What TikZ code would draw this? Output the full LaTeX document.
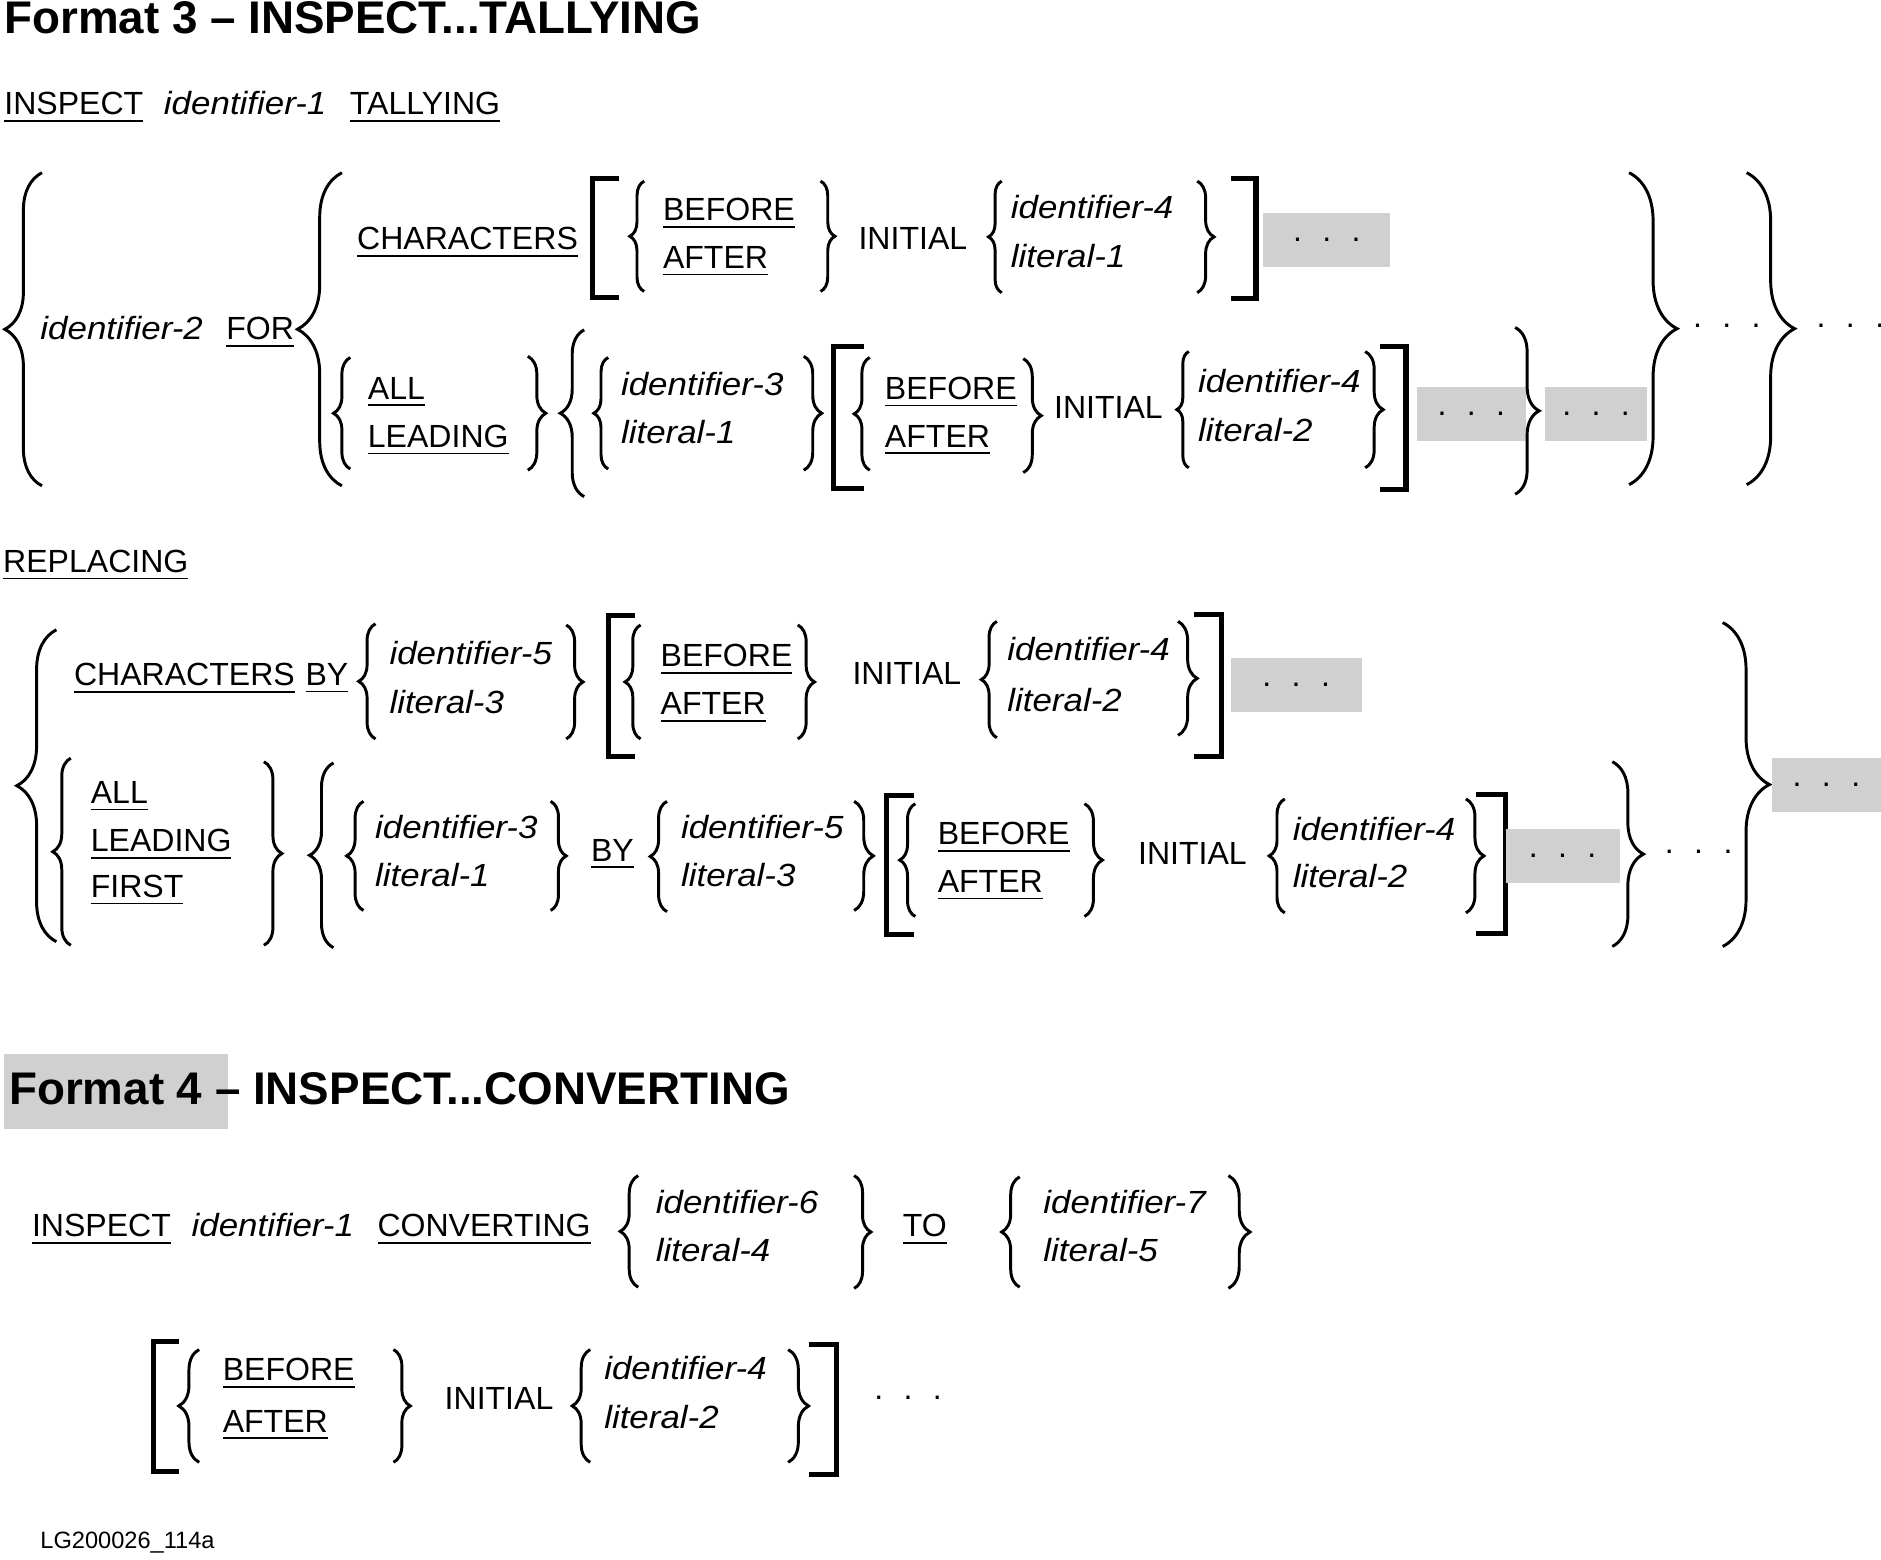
\documentclass[tikz,border=0pt]{standalone}
\usepackage{fontspec}
\setmainfont[ItalicFeatures={FakeStretch=1.09}]{Liberation Sans}
\usetikzlibrary{decorations.pathreplacing}
\definecolor{stipgray}{RGB}{208,208,208}
\newcommand{\repdots}{.\hspace{1.7mm}.\hspace{1.7mm}.}

\begin{document}
\begin{tikzpicture}[
  every node/.style={font=\fontsize{7.6}{9}\selectfont,inner sep=0pt},
  wd/.style={anchor=base west},
  var/.style={anchor=base west,font=\fontsize{7.6}{9}\selectfont\itshape},
  head/.style={anchor=base west,font=\fontsize{10.85}{12}\selectfont\bfseries},
  brc/.style={decorate,decoration={brace,amplitude=#1},line width=0.7pt},
  brc/.default=0.13cm,
  bkt/.style={line width=1.2pt},
  stip/.style={fill=stipgray,minimum height=0.45cm},
]
  \useasboundingbox (0,0) rectangle (15.68,13.00);

  % Title
  \node[head] (t3) at (0.03,12.72) {Format 3 -- INSPECT...TALLYING};
  \node[wd] (insp3) at (0.03,12.045) {\underline{INSPECT}};
  \node[var] (id1a) at (1.36,12.045) {identifier-1};
  \node[wd] (tally) at (2.91,12.045) {\underline{TALLYING}};

  % Tallying: outer part
  \draw[brc=0.31cm] (0.35,8.95) -- (0.35,11.56);
  \node[var] (id2) at (0.33,10.17) {identifier-2};
  \node[wd] (for) at (1.88,10.17) {\underline{FOR}};
  \draw[brc=0.37cm] (2.85,8.95) -- (2.85,11.56);

  % Tallying: CHARACTERS row
  \node[wd] (chars3) at (2.97,10.92) {\underline{CHARACTERS}};
  \draw[bkt] (5.16,11.51) -| (4.94,10.52) -- (5.16,10.52);
  \draw[brc=0.12cm] (5.37,10.57) -- (5.37,11.49);
  \node[wd] (bef3a) at (5.52,11.16) {\underline{BEFORE}};
  \node[wd] (aft3a) at (5.52,10.76) {\underline{AFTER}};
  \draw[brc=0.12cm] (6.84,11.49) -- (6.84,10.57);
  \node[wd] (ini3a) at (7.15,10.92) {INITIAL};
  \draw[brc=0.11cm] (8.35,10.56) -- (8.35,11.49);
  \node[var] (id4a) at (8.42,11.18) {identifier-4};
  \node[var] (lit1a) at (8.42,10.77) {literal-1};
  \draw[brc=0.14cm] (9.98,11.49) -- (9.98,10.56);
  \draw[bkt] (10.26,11.51) -| (10.47,10.51) -- (10.26,10.51);
  \node[stip,minimum width=1.06cm] (st1) at (11.06,11.00) {\repdots};

  % Tallying: ALL / LEADING row
  \draw[brc=0.14cm] (2.92,9.09) -- (2.92,10.02);
  \node[wd] (all3) at (3.06,9.67) {\underline{ALL}};
  \node[wd] (lead3) at (3.06,9.27) {\underline{LEADING}};
  \draw[brc=0.15cm] (4.40,10.03) -- (4.40,9.08);
  \draw[brc=0.20cm] (4.87,8.86) -- (4.87,10.25);
  \draw[brc=0.12cm] (5.07,9.09) -- (5.07,10.02);
  \node[var] (id3a) at (5.17,9.70) {identifier-3};
  \node[var] (lit1b) at (5.17,9.30) {literal-1};
  \draw[brc=0.15cm] (6.70,10.03) -- (6.70,9.08);
  \draw[bkt] (7.20,10.11) -| (6.95,8.93) -- (7.20,8.93);
  \draw[brc=0.13cm] (7.25,9.08) -- (7.25,10.02);
  \node[wd] (bef3b) at (7.37,9.67) {\underline{BEFORE}};
  \node[wd] (aft3b) at (7.37,9.27) {\underline{AFTER}};
  \draw[brc=0.15cm] (8.53,10.01) -- (8.53,9.06);
  \node[wd] (ini3b) at (8.78,9.51) {INITIAL};
  \draw[brc=0.10cm] (9.91,9.10) -- (9.91,10.07);
  \node[var] (id4b) at (9.98,9.73) {identifier-4};
  \node[var] (lit2a) at (9.98,9.32) {literal-2};
  \draw[brc=0.15cm] (11.38,10.07) -- (11.38,9.10);
  \draw[bkt] (11.50,10.11) -| (11.72,8.92) -- (11.50,8.92);
  \node[stip,minimum width=0.91cm] (st2) at (12.265,9.55) {\repdots};
  \draw[brc=0.20cm] (12.63,10.27) -- (12.63,8.88);
  \node[stip,minimum width=0.85cm] (st3) at (13.305,9.55) {\repdots};

  % Tallying: closing braces
  \draw[brc=0.40cm] (13.58,11.56) -- (13.58,8.96);
  \node (dt1) at (14.395,10.28) {\repdots};
  \draw[brc=0.40cm] (14.56,11.56) -- (14.56,8.96);
  \node (dt2) at (15.425,10.28) {\repdots};

  % Replacing
  \node[wd] (repl) at (0.02,8.23) {\underline{REPLACING}};
  \draw[brc=0.33cm] (0.47,5.15) -- (0.47,7.75);

  % Replacing: CHARACTERS row
  \node[wd] (chars4) at (0.61,7.285) {\underline{CHARACTERS}};
  \node[wd] (by1) at (2.54,7.285) {\underline{BY}};
  \draw[brc=0.14cm] (3.13,6.84) -- (3.13,7.80);
  \node[var] (id5a) at (3.24,7.46) {identifier-5};
  \node[var] (lit3a) at (3.24,7.05) {literal-3};
  \draw[brc=0.14cm] (4.72,7.79) -- (4.72,6.84);
  \draw[bkt] (5.29,7.87) -| (5.07,6.69) -- (5.29,6.69);
  \draw[brc=0.13cm] (5.34,6.84) -- (5.34,7.79);
  \node[wd] (bef4a) at (5.50,7.44) {\underline{BEFORE}};
  \node[wd] (aft4a) at (5.50,7.04) {\underline{AFTER}};
  \draw[brc=0.14cm] (6.65,7.79) -- (6.65,6.84);
  \node[wd] (ini4a) at (7.10,7.29) {INITIAL};
  \draw[brc=0.13cm] (8.31,6.85) -- (8.31,7.82);
  \node[var] (id4c) at (8.39,7.49) {identifier-4};
  \node[var] (lit2b) at (8.39,7.07) {literal-2};
  \draw[brc=0.16cm] (9.82,7.82) -- (9.82,6.87);
  \draw[bkt] (9.95,7.88) -| (10.18,6.69) -- (9.95,6.69);
  \node[stip,minimum width=1.09cm] (st4) at (10.805,7.29) {\repdots};

  % Replacing: ALL / LEADING / FIRST row
  \draw[brc=0.15cm] (0.59,5.12) -- (0.59,6.68);
  \node[wd] (all4) at (0.75,6.30) {\underline{ALL}};
  \node[wd] (lead4) at (0.75,5.90) {\underline{LEADING}};
  \node[wd] (first4) at (0.75,5.52) {\underline{FIRST}};
  \draw[brc=0.15cm] (2.20,6.65) -- (2.20,5.12);
  \draw[brc=0.20cm] (2.78,5.10) -- (2.78,6.64);
  \draw[brc=0.14cm] (3.03,5.41) -- (3.03,6.32);
  \node[var] (id3b) at (3.12,6.01) {identifier-3};
  \node[var] (lit1c) at (3.12,5.61) {literal-1};
  \draw[brc=0.13cm] (4.59,6.32) -- (4.59,5.41);
  \node[wd] (by2) at (4.92,5.82) {\underline{BY}};
  \draw[brc=0.14cm] (5.56,5.40) -- (5.56,6.32);
  \node[var] (id5b) at (5.67,6.01) {identifier-5};
  \node[var] (lit3b) at (5.67,5.61) {literal-3};
  \draw[brc=0.16cm] (7.12,6.32) -- (7.12,5.41);
  \draw[bkt] (7.62,6.37) -| (7.39,5.21) -- (7.62,5.21);
  \draw[brc=0.13cm] (7.63,5.36) -- (7.63,6.30);
  \node[wd] (bef4b) at (7.81,5.96) {\underline{BEFORE}};
  \node[wd] (aft4b) at (7.81,5.56) {\underline{AFTER}};
  \draw[brc=0.15cm] (9.04,6.30) -- (9.04,5.36);
  \node[wd] (ini4b) at (9.48,5.79) {INITIAL};
  \draw[brc=0.13cm] (10.71,5.39) -- (10.71,6.34);
  \node[var] (id4d) at (10.77,5.99) {identifier-4};
  \node[var] (lit2c) at (10.77,5.60) {literal-2};
  \draw[brc=0.15cm] (12.22,6.34) -- (12.22,5.39);
  \draw[bkt] (12.30,6.38) -| (12.55,5.22) -- (12.30,5.22);
  \node[stip,minimum width=0.95cm] (st5) at (13.025,5.865) {\repdots};
  \draw[brc=0.26cm] (13.44,6.65) -- (13.44,5.11);
  \node (dt3) at (14.16,5.90) {\repdots};

  % Replacing: closing brace
  \draw[brc=0.39cm] (14.36,7.81) -- (14.36,5.11);
  \node[stip,minimum width=0.91cm] (st6) at (15.225,6.46) {\repdots};

  % Format 4
  \node[stip,minimum width=1.87cm,minimum height=0.62cm] (f4bg) at (0.965,3.90) {};
  \node[head] (t4) at (0.07,3.795) {Format 4 -- INSPECT...CONVERTING};
  \node[wd] (insp4) at (0.26,2.69) {\underline{INSPECT}};
  \node[var] (id1b) at (1.59,2.69) {identifier-1};
  \node[wd] (conv) at (3.14,2.69) {\underline{CONVERTING}};
  \draw[brc=0.15cm] (5.32,2.27) -- (5.32,3.20);
  \node[var] (id6) at (5.46,2.88) {identifier-6};
  \node[var] (lit4) at (5.46,2.48) {literal-4};
  \draw[brc=0.14cm] (7.12,3.20) -- (7.12,2.26);
  \node[wd] (to) at (7.52,2.69) {\underline{TO}};
  \draw[brc=0.15cm] (8.50,2.27) -- (8.50,3.19);
  \node[var] (id7) at (8.69,2.88) {identifier-7};
  \node[var] (lit5) at (8.69,2.48) {literal-5};
  \draw[brc=0.18cm] (10.24,3.20) -- (10.24,2.26);

  % Format 4: BEFORE / AFTER phrase
  \draw[bkt] (1.49,1.82) -| (1.28,0.73) -- (1.49,0.73);
  \draw[brc=0.17cm] (1.66,0.81) -- (1.66,1.75);
  \node[wd] (bef5) at (1.85,1.49) {\underline{BEFORE}};
  \node[wd] (aft5) at (1.85,1.06) {\underline{AFTER}};
  \draw[brc=0.14cm] (3.28,1.75) -- (3.28,0.81);
  \node[wd] (ini5) at (3.70,1.25) {INITIAL};
  \draw[brc=0.15cm] (4.92,0.81) -- (4.92,1.75);
  \node[var] (id4e) at (5.03,1.50) {identifier-4};
  \node[var] (lit2d) at (5.03,1.09) {literal-2};
  \draw[brc=0.17cm] (6.57,1.75) -- (6.57,0.81);
  \draw[bkt] (6.74,1.79) -| (6.97,0.71) -- (6.74,0.71);
  \node (dt4) at (7.57,1.35) {\repdots};

  % Figure id
  \node[wd,font=\fontsize{5.6}{7}\selectfont] (figid) at (0.33,0.09) {LG200026\_114a};
\end{tikzpicture}
\end{document}
